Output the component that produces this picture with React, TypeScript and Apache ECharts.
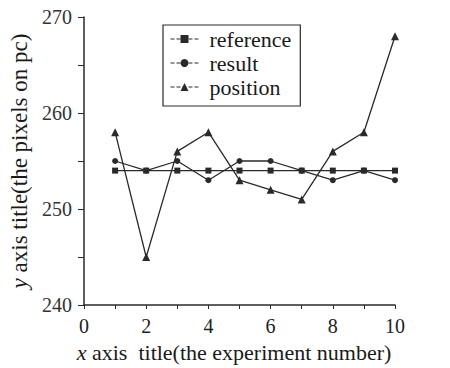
import React, { useEffect, useRef } from "react";
import * as echarts from "echarts";

const experiments = [1, 2, 3, 4, 5, 6, 7, 8, 9, 10];
const referenceValues = [254, 254, 254, 254, 254, 254, 254, 254, 254, 254];
const resultValues = [255, 254, 255, 253, 255, 255, 254, 253, 254, 253];
const positionValues = [258, 245, 256, 258, 253, 252, 251, 256, 258, 268];
const legendNames = ["reference", "result", "position"];
const xTitle = "{i|x} axis  title(the experiment number)";
const yTitle = "{i|y} axis title(the pixels on pc)";

const FONT = "'Liberation Serif', 'Times New Roman', serif";
const INK = "#2a2a2a";

export default function App() {
  const ref = useRef<HTMLDivElement>(null);
  useEffect(() => {
    if (!ref.current) return;
    const chart = echarts.init(ref.current, undefined, { renderer: "svg" });
    const mk = (name: string, vals: number[], symbol: string, size: number) => ({
      name,
      type: "line",
      data: experiments.map((x, i) => [x, vals[i]]),
      symbol,
      symbolSize: size,
      lineStyle: { color: INK, width: 1.3 },
      itemStyle: { color: INK },
      z: 3,
    });
    chart.setOption({
      animation: false,
      backgroundColor: "#ffffff",
      textStyle: { fontFamily: FONT },
      grid: { left: 77, right: 55, top: 17, bottom: 63 },
      graphic: [
        {
          type: "text",
          x: 234,
          y: 352,
          style: {
            text: xTitle,
            fontFamily: FONT,
            fontSize: 22,
            fill: "#1a1a1a",
            align: "center",
            verticalAlign: "middle",
            rich: { i: { fontFamily: FONT, fontSize: 22, fontStyle: "italic", fill: "#1a1a1a" } },
          },
        },
      ],
      legend: {
        orient: "vertical",
        left: 163,
        top: 25,
        padding: [3, 9, 8, 7],
        itemGap: 2,
        itemWidth: 28,
        itemHeight: 10,
        borderColor: INK,
        borderWidth: 1.2,
        textStyle: {
          fontFamily: FONT,
          fontSize: 22,
          lineHeight: 22,
          color: "#1a1a1a",
          padding: [0, 0, 0, 6],
        },
        lineStyle: { type: "dashed", width: 1 },
        data: legendNames,
      },
      xAxis: {
        type: "value",
        min: 0,
        max: 10,
        interval: 2,
        axisLine: { lineStyle: { color: INK, width: 1.5 } },
        axisTick: { show: true, length: 4, lineStyle: { color: INK } },
        minorTick: { show: true, splitNumber: 2, length: 4, lineStyle: { color: INK } },
        splitLine: { show: false },
        axisLabel: { fontFamily: FONT, fontSize: 20, color: "#222", margin: 11 },
      },
      yAxis: {
        type: "value",
        min: 240,
        max: 270,
        interval: 10,
        name: yTitle,
        nameLocation: "middle",
        nameGap: 53,
        nameTextStyle: {
          fontFamily: FONT,
          fontSize: 23,
          color: "#1a1a1a",
          rich: { i: { fontFamily: FONT, fontSize: 23, fontStyle: "italic", color: "#1a1a1a" } },
        },
        axisLine: { show: true, lineStyle: { color: INK, width: 1.5 } },
        axisTick: { show: true, length: 6, lineStyle: { color: INK } },
        minorTick: { show: true, splitNumber: 2, length: 6, lineStyle: { color: INK } },
        splitLine: { show: false },
        axisLabel: { fontFamily: FONT, fontSize: 20, color: "#333", margin: 12 },
      },
      series: [
        mk("reference", referenceValues, "rect", 6),
        mk("result", resultValues, "circle", 6),
        mk("position", positionValues, "triangle", 8),
      ],
    });
    return () => chart.dispose();
  }, []);
  return (
    <div
      ref={ref}
      style={{ position: "absolute", left: 0, top: 0, width: 450, height: 368 }}
    />
  );
}
